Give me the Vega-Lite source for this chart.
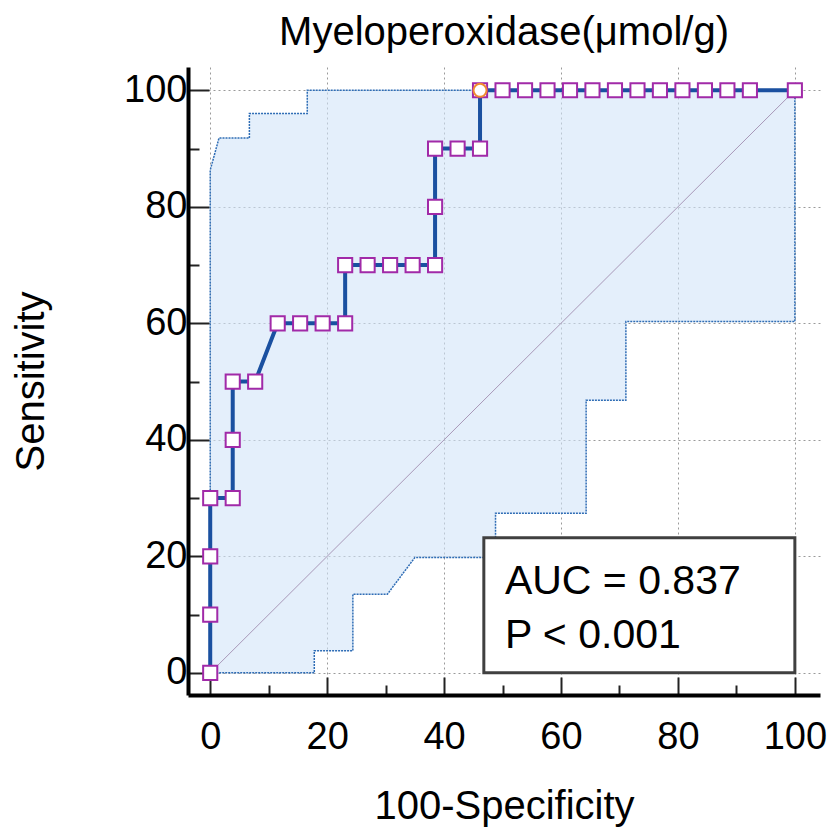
{
  "$schema": "https://vega.github.io/schema/vega-lite/v6.json",
  "width": 632,
  "height": 628,
  "autosize": "none",
  "padding": {"left": 188, "top": 67, "right": 14, "bottom": 138},
  "background": "white",
  "config": {
    "view": {"stroke": null},
    "font": "Liberation Sans"
  },
  "title": {
    "text": "Myeloperoxidase(μmol/g)",
    "font": "Liberation Sans",
    "fontSize": 40,
    "fontWeight": "normal",
    "color": "black",
    "anchor": "middle",
    "baseline": "alphabetic",
    "offset": -18
  },
  "datasets": {
    "roc": [
      {"i": 0, "x": 0, "y": 0}, {"i": 1, "x": 0, "y": 10}, {"i": 2, "x": 0, "y": 20}, {"i": 3, "x": 0, "y": 30},
      {"i": 4, "x": 3.85, "y": 30}, {"i": 5, "x": 3.85, "y": 40}, {"i": 6, "x": 3.85, "y": 50},
      {"i": 7, "x": 7.69, "y": 50}, {"i": 8, "x": 11.54, "y": 60}, {"i": 9, "x": 15.38, "y": 60},
      {"i": 10, "x": 19.23, "y": 60}, {"i": 11, "x": 23.08, "y": 60}, {"i": 12, "x": 23.08, "y": 70},
      {"i": 13, "x": 26.92, "y": 70}, {"i": 14, "x": 30.77, "y": 70}, {"i": 15, "x": 34.62, "y": 70},
      {"i": 16, "x": 38.46, "y": 70}, {"i": 17, "x": 38.46, "y": 80}, {"i": 18, "x": 38.46, "y": 90},
      {"i": 19, "x": 42.31, "y": 90}, {"i": 20, "x": 46.15, "y": 90}, {"i": 21, "x": 46.15, "y": 100},
      {"i": 22, "x": 50, "y": 100}, {"i": 23, "x": 53.85, "y": 100}, {"i": 24, "x": 57.69, "y": 100},
      {"i": 25, "x": 61.54, "y": 100}, {"i": 26, "x": 65.38, "y": 100}, {"i": 27, "x": 69.23, "y": 100},
      {"i": 28, "x": 73.08, "y": 100}, {"i": 29, "x": 76.92, "y": 100}, {"i": 30, "x": 80.77, "y": 100},
      {"i": 31, "x": 84.62, "y": 100}, {"i": 32, "x": 88.46, "y": 100}, {"i": 33, "x": 92.31, "y": 100},
      {"i": 34, "x": 100, "y": 100}
    ],
    "band": [
      {"x": 0, "lo": 0, "hi": 86.3},
      {"x": 1.5, "lo": 0, "hi": 91.8},
      {"x": 6.7, "lo": 0, "hi": 91.8},
      {"x": 6.7, "lo": 0, "hi": 96},
      {"x": 16.6, "lo": 0, "hi": 96},
      {"x": 16.6, "lo": 0, "hi": 100},
      {"x": 17.8, "lo": 0, "hi": 100},
      {"x": 17.8, "lo": 3.8, "hi": 100},
      {"x": 24.4, "lo": 3.8, "hi": 100},
      {"x": 24.4, "lo": 13.5, "hi": 100},
      {"x": 30.3, "lo": 13.5, "hi": 100},
      {"x": 35, "lo": 19.8, "hi": 100},
      {"x": 48.8, "lo": 19.8, "hi": 100},
      {"x": 48.8, "lo": 27.4, "hi": 100},
      {"x": 64.3, "lo": 27.4, "hi": 100},
      {"x": 64.3, "lo": 46.8, "hi": 100},
      {"x": 71.1, "lo": 46.8, "hi": 100},
      {"x": 71.1, "lo": 60.3, "hi": 100},
      {"x": 100, "lo": 60.3, "hi": 100}
    ],
    "diag": [{"x": 0, "y": 0}, {"x": 100, "y": 100}],
    "cut": [{"x": 46.15, "y": 100}],
    "box": [{"x": 46.8, "x2": 100, "y": 0, "y2": 23.2}],
    "notes": [
      {"x": 50.4, "y": 13.5, "label": "AUC = 0.837"},
      {"x": 50.4, "y": 4.3, "label": "P < 0.001"}
    ]
  },
  "layer": [
    {
      "data": {"name": "band"},
      "mark": {"type": "area", "fill": "#d2e5f9", "fillOpacity": 0.6, "stroke": "#2f6db5", "strokeWidth": 1.5, "strokeDash": [2, 1]},
      "encoding": {
        "x": {
          "field": "x", "type": "quantitative",
          "scale": {"domain": [-3.8, 104.3], "nice": false, "zero": false},
          "axis": {
            "title": "100-Specificity",
            "values": [0, 5, 10, 15, 20, 25, 30, 35, 40, 45, 50, 55, 60, 65, 70, 75, 80, 85, 90, 95, 100],
            "labelExpr": "datum.value % 20 === 0 ? datum.label : ''",
            "tickSize": {"condition": {"test": "datum.value % 20 === 0", "value": -18}, "value": -10},
            "tickWidth": 2,
            "tickColor": "#222222",
            "grid": true,
            "gridColor": "#9a9a9a",
            "gridDash": [2, 3],
            "gridWidth": 1,
            "gridOpacity": {"condition": {"test": "datum.value % 20 === 0", "value": 1}, "value": 0},
            "domainColor": "black",
            "domainWidth": 4,
            "labelFont": "Liberation Sans",
            "labelFontSize": 38,
            "labelColor": "black",
            "labelPadding": 41,
            "labelFlush": false,
            "labelOverlap": false,
            "titleFont": "Liberation Sans",
            "titleFontSize": 40,
            "titleFontWeight": "normal",
            "titleColor": "black",
            "titlePadding": 22
          }
        },
        "y": {
          "field": "lo", "type": "quantitative",
          "scale": {"domain": [-3.8, 104], "nice": false, "zero": false},
          "axis": {
            "title": "Sensitivity",
            "values": [0, 5, 10, 15, 20, 25, 30, 35, 40, 45, 50, 55, 60, 65, 70, 75, 80, 85, 90, 95, 100],
            "labelExpr": "datum.value % 20 === 0 ? datum.label : ''",
            "tickSize": {"condition": {"test": "datum.value % 20 === 0", "value": -21}, "value": -11},
            "tickWidth": 2,
            "tickColor": "#222222",
            "grid": true,
            "gridColor": "#9a9a9a",
            "gridDash": [2, 3],
            "gridWidth": 1,
            "gridOpacity": {"condition": {"test": "datum.value % 20 === 0", "value": 1}, "value": 0},
            "domainColor": "black",
            "domainWidth": 4,
            "labelFont": "Liberation Sans",
            "labelFontSize": 38,
            "labelColor": "black",
            "labelPadding": 22,
            "labelFlush": false,
            "labelOverlap": false,
            "titleFont": "Liberation Sans",
            "titleFontSize": 40,
            "titleFontWeight": "normal",
            "titleColor": "black",
            "titlePadding": 72
          }
        },
        "y2": {"field": "hi"}
      }
    },
    {
      "data": {"name": "diag"},
      "mark": {"type": "line", "color": "#a898b8", "strokeWidth": 1},
      "encoding": {
        "x": {"field": "x", "type": "quantitative"},
        "y": {"field": "y", "type": "quantitative"}
      }
    },
    {
      "data": {"name": "roc"},
      "mark": {"type": "line", "color": "#1a50a0", "strokeWidth": 4},
      "encoding": {
        "x": {"field": "x", "type": "quantitative"},
        "y": {"field": "y", "type": "quantitative"},
        "order": {"field": "i", "type": "quantitative"}
      }
    },
    {
      "data": {"name": "roc"},
      "mark": {"type": "point", "shape": "square", "filled": false, "fill": "white", "fillOpacity": 1, "stroke": "#a12aa8", "strokeWidth": 2, "opacity": 1, "size": 200},
      "encoding": {
        "x": {"field": "x", "type": "quantitative"},
        "y": {"field": "y", "type": "quantitative"}
      }
    },
    {
      "data": {"name": "cut"},
      "mark": {"type": "point", "shape": "circle", "filled": false, "fill": "white", "fillOpacity": 1, "stroke": "#f08a30", "strokeWidth": 2, "opacity": 1, "size": 170},
      "encoding": {
        "x": {"field": "x", "type": "quantitative"},
        "y": {"field": "y", "type": "quantitative"}
      }
    },
    {
      "data": {"name": "box"},
      "mark": {"type": "rect", "fill": "white", "stroke": "#404040", "strokeWidth": 3},
      "encoding": {
        "x": {"field": "x", "type": "quantitative"},
        "x2": {"field": "x2"},
        "y": {"field": "y", "type": "quantitative"},
        "y2": {"field": "y2"}
      }
    },
    {
      "data": {"name": "notes"},
      "mark": {"type": "text", "align": "left", "baseline": "alphabetic", "font": "Liberation Sans", "fontSize": 41, "color": "black"},
      "encoding": {
        "x": {"field": "x", "type": "quantitative"},
        "y": {"field": "y", "type": "quantitative"},
        "text": {"field": "label"}
      }
    }
  ]
}
